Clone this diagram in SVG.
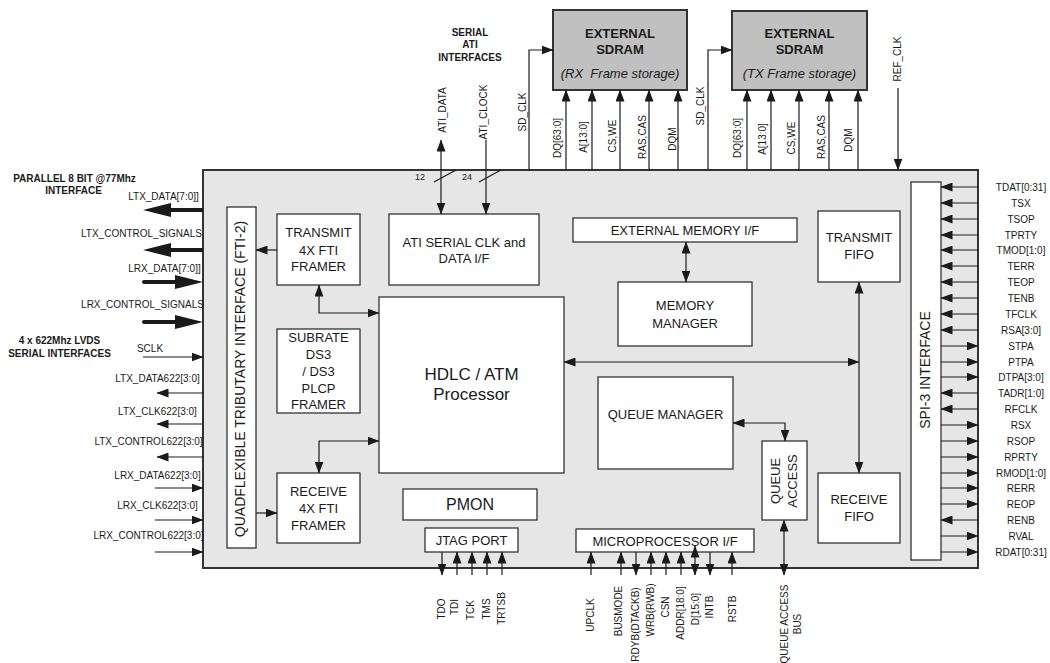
<svg xmlns="http://www.w3.org/2000/svg" width="1050" height="663" viewBox="0 0 1050 663">
<style>
.t{font-family:"Liberation Sans",Arial,sans-serif;fill:#1a1a1a}
.c{text-anchor:middle}
.b{font-weight:bold}
.box{fill:#fff;stroke:#333;stroke-width:1.3}
.sd{fill:#c0c0c0;stroke:#333;stroke-width:2}
.ln{stroke:#1a1a1a;stroke-width:1.2;fill:none}
.th{stroke:#1a1a1a;stroke-width:4;fill:none}
.s10{font-size:10px}
.s13{font-size:13px}
</style>
<defs>
<marker id="ah" viewBox="0 0 12 9" refX="11.5" refY="4.5" markerWidth="12" markerHeight="9" markerUnits="userSpaceOnUse" orient="auto-start-reverse"><path d="M0,0L12,4.5L0,9z" fill="#1a1a1a"/></marker>
</defs>
<rect width="1050" height="663" fill="#fff"/>

<g id="chip"><rect x="203" y="170" width="775" height="398" fill="#e6e6e6" stroke="#333" stroke-width="2"/></g>

<g id="sdram-rx"><rect class="sd" x="553" y="10" width="134" height="80"/>
<text class="t c b s13" x="620" y="38">EXTERNAL</text>
<text class="t c b s13" x="620" y="54">SDRAM</text>
<text class="t c s13" x="620" y="78" font-style="italic" xml:space="preserve">(RX  Frame storage)</text></g>
<g id="sdram-tx"><rect class="sd" x="732" y="11" width="135" height="79"/>
<text class="t c b s13" x="799.5" y="38">EXTERNAL</text>
<text class="t c b s13" x="799.5" y="54">SDRAM</text>
<text class="t c s13" x="799.5" y="78" font-style="italic">(TX Frame storage)</text></g>

<g id="fti"><rect class="box" x="227" y="207" width="29" height="341"/>
<text class="t c" font-size="14" transform="translate(245,379) rotate(-90)">QUADFLEXIBLE TRIBUTARY INTERFACE (FTI-2)</text></g>
<g id="tx-framer"><rect class="box" x="277" y="214" width="83" height="71"/>
<text class="t c s13" x="318.5" y="237">TRANSMIT</text><text class="t c s13" x="318.5" y="255">4X FTI</text><text class="t c s13" x="318.5" y="271">FRAMER</text></g>
<g id="subrate"><rect class="box" x="277" y="329" width="83" height="84"/>
<text class="t c s13" x="318.5" y="342">SUBRATE</text><text class="t c s13" x="318.5" y="359">DS3</text><text class="t c s13" x="318.5" y="376">/ DS3</text><text class="t c s13" x="318.5" y="393">PLCP</text><text class="t c s13" x="318.5" y="409">FRAMER</text></g>
<g id="rx-framer"><rect class="box" x="277" y="473" width="83" height="70"/>
<text class="t c s13" x="318.5" y="496">RECEIVE</text><text class="t c s13" x="318.5" y="513">4X FTI</text><text class="t c s13" x="318.5" y="530">FRAMER</text></g>
<g id="ati"><rect class="box" x="389" y="214" width="150" height="71"/>
<text class="t c s13" x="464" y="247">ATI SERIAL CLK and</text><text class="t c s13" x="464" y="263">DATA I/F</text></g>
<g id="hdlc"><rect class="box" x="379" y="297" width="185" height="176"/>
<text class="t c" font-size="17" x="471.5" y="380">HDLC / ATM</text><text class="t c" font-size="17" x="471.5" y="400">Processor</text></g>
<g id="pmon"><rect class="box" x="403" y="489" width="134" height="31"/>
<text class="t c" font-size="16" x="470" y="510">PMON</text></g>
<g id="jtag"><rect class="box" x="425" y="528" width="93" height="24"/>
<text class="t c s13" x="471.5" y="545">JTAG PORT</text></g>
<g id="ext-mem-if"><rect class="box" x="573" y="218" width="224" height="24"/>
<text class="t c s13" x="685" y="235">EXTERNAL MEMORY I/F</text></g>
<g id="mem-mgr"><rect class="box" x="618" y="282" width="134" height="64"/>
<text class="t c s13" x="685" y="310">MEMORY</text><text class="t c s13" x="685" y="328">MANAGER</text></g>
<g id="tx-fifo"><rect class="box" x="818" y="211" width="82" height="71"/>
<text class="t c s13" x="859" y="242">TRANSMIT</text><text class="t c s13" x="859" y="259">FIFO</text></g>
<g id="queue-mgr"><rect class="box" x="598" y="377" width="135" height="92"/>
<text class="t c s13" x="665.5" y="419">QUEUE MANAGER</text></g>
<g id="queue-access"><rect class="box" x="762" y="441" width="45" height="79"/>
<text class="t c s13" transform="translate(780,481) rotate(-90)">QUEUE</text>
<text class="t c s13" transform="translate(797,481) rotate(-90)">ACCESS</text></g>
<g id="rx-fifo"><rect class="box" x="818" y="473" width="82" height="70"/>
<text class="t c s13" x="859" y="504">RECEIVE</text><text class="t c s13" x="859" y="521">FIFO</text></g>
<g id="micro-if"><rect class="box" x="576" y="529" width="178" height="23"/>
<text class="t c s13" x="665" y="546">MICROPROCESSOR I/F</text></g>
<g id="spi3"><rect class="box" x="911" y="182" width="30" height="378"/>
<text class="t c" font-size="14" transform="translate(930,370) rotate(-90)">SPI-3 INTERFACE</text></g>

<g id="connectors">
<!-- internal -->
<line class="ln" x1="277" y1="250" x2="256" y2="250" marker-end="url(#ah)"/>
<line class="ln" x1="256" y1="513" x2="277" y2="513" marker-end="url(#ah)"/>
<polyline class="ln" points="319,285 319,313 379,313" marker-start="url(#ah)" marker-end="url(#ah)"/>
<polyline class="ln" points="379,441 319,441 319,473" marker-start="url(#ah)" marker-end="url(#ah)"/>
<line class="ln" x1="441" y1="140" x2="441" y2="214" marker-start="url(#ah)" marker-end="url(#ah)"/>
<line class="ln" x1="486" y1="140" x2="486" y2="214" marker-end="url(#ah)"/>
<line class="ln" x1="434" y1="182" x2="456" y2="170"/>
<line class="ln" x1="479" y1="182" x2="501" y2="170"/>
<line class="ln" x1="686" y1="242" x2="686" y2="282" marker-start="url(#ah)" marker-end="url(#ah)"/>
<line class="ln" x1="564" y1="362" x2="859" y2="362" marker-start="url(#ah)" marker-end="url(#ah)"/>
<line class="ln" x1="859" y1="282" x2="859" y2="473" marker-start="url(#ah)" marker-end="url(#ah)"/>
<polyline class="ln" points="733,423 785,423 785,441" marker-start="url(#ah)" marker-end="url(#ah)"/>
<line class="ln" x1="784" y1="520" x2="784" y2="575" marker-start="url(#ah)" marker-end="url(#ah)"/>
<!-- top SDRAM signals -->
<polyline class="ln" points="529,170 529,50 553,50" marker-end="url(#ah)"/>
<line class="ln" x1="566" y1="170" x2="566" y2="90" marker-end="url(#ah)"/>
<line class="ln" x1="592" y1="170" x2="592" y2="90" marker-end="url(#ah)"/>
<line class="ln" x1="620" y1="170" x2="620" y2="90" marker-end="url(#ah)"/>
<line class="ln" x1="649" y1="170" x2="649" y2="90" marker-end="url(#ah)"/>
<line class="ln" x1="678" y1="170" x2="678" y2="90" marker-end="url(#ah)"/>
<polyline class="ln" points="708,170 708,50 732,50" marker-end="url(#ah)"/>
<line class="ln" x1="747" y1="170" x2="747" y2="90" marker-end="url(#ah)"/>
<line class="ln" x1="771" y1="170" x2="771" y2="90" marker-end="url(#ah)"/>
<line class="ln" x1="799" y1="170" x2="799" y2="90" marker-end="url(#ah)"/>
<line class="ln" x1="829" y1="170" x2="829" y2="90" marker-end="url(#ah)"/>
<line class="ln" x1="858" y1="170" x2="858" y2="90" marker-end="url(#ah)"/>
<line class="ln" x1="898" y1="88" x2="898" y2="170" marker-end="url(#ah)"/>
<!-- left thick -->
<line class="th" x1="203" y1="210" x2="168" y2="210"/><polygon points="143,210 171,203 171,217" fill="#1a1a1a"/>
<line class="th" x1="203" y1="250" x2="168" y2="250"/><polygon points="143,250 171,243 171,257" fill="#1a1a1a"/>
<line class="th" x1="144" y1="282" x2="178" y2="282" stroke-linecap="round"/><polygon points="203,282 175,275 175,289" fill="#1a1a1a"/>
<line class="th" x1="144" y1="322" x2="178" y2="322" stroke-linecap="round"/><polygon points="203,322 175,315 175,329" fill="#1a1a1a"/>
<!-- left thin -->
<line class="ln" x1="143" y1="357" x2="203" y2="357" marker-end="url(#ah)"/>
<line class="ln" x1="203" y1="393" x2="157" y2="393" marker-end="url(#ah)"/>
<line class="ln" x1="203" y1="424" x2="157" y2="424" marker-end="url(#ah)"/>
<line class="ln" x1="203" y1="457" x2="157" y2="457" marker-end="url(#ah)"/>
<line class="ln" x1="155" y1="488" x2="203" y2="488" marker-end="url(#ah)"/>
<line class="ln" x1="155" y1="520" x2="203" y2="520" marker-end="url(#ah)"/>
<line class="ln" x1="155" y1="552" x2="203" y2="552" marker-end="url(#ah)"/>
<!-- right SPI-3 -->
<line class="ln" x1="978" y1="187" x2="941" y2="187" marker-end="url(#ah)"/>
<line class="ln" x1="978" y1="203" x2="941" y2="203" marker-end="url(#ah)"/>
<line class="ln" x1="978" y1="219" x2="941" y2="219" marker-end="url(#ah)"/>
<line class="ln" x1="978" y1="235" x2="941" y2="235" marker-end="url(#ah)"/>
<line class="ln" x1="978" y1="250" x2="941" y2="250" marker-end="url(#ah)"/>
<line class="ln" x1="978" y1="266" x2="941" y2="266" marker-end="url(#ah)"/>
<line class="ln" x1="978" y1="282" x2="941" y2="282" marker-end="url(#ah)"/>
<line class="ln" x1="978" y1="298" x2="941" y2="298" marker-end="url(#ah)"/>
<line class="ln" x1="978" y1="314" x2="941" y2="314" marker-end="url(#ah)"/>
<line class="ln" x1="978" y1="330" x2="941" y2="330" marker-end="url(#ah)"/>
<line class="ln" x1="941" y1="346" x2="978" y2="346" marker-end="url(#ah)"/>
<line class="ln" x1="941" y1="362" x2="978" y2="362" marker-end="url(#ah)"/>
<line class="ln" x1="941" y1="377" x2="978" y2="377" marker-end="url(#ah)"/>
<line class="ln" x1="978" y1="393" x2="941" y2="393" marker-end="url(#ah)"/>
<line class="ln" x1="978" y1="409" x2="941" y2="409" marker-end="url(#ah)"/>
<line class="ln" x1="941" y1="425" x2="978" y2="425" marker-end="url(#ah)"/>
<line class="ln" x1="941" y1="441" x2="978" y2="441" marker-end="url(#ah)"/>
<line class="ln" x1="941" y1="457" x2="978" y2="457" marker-end="url(#ah)"/>
<line class="ln" x1="941" y1="473" x2="978" y2="473" marker-end="url(#ah)"/>
<line class="ln" x1="941" y1="488" x2="978" y2="488" marker-end="url(#ah)"/>
<line class="ln" x1="941" y1="504" x2="978" y2="504" marker-end="url(#ah)"/>
<line class="ln" x1="978" y1="520" x2="941" y2="520" marker-end="url(#ah)"/>
<line class="ln" x1="941" y1="536" x2="978" y2="536" marker-end="url(#ah)"/>
<line class="ln" x1="941" y1="552" x2="978" y2="552" marker-end="url(#ah)"/>
<!-- bottom JTAG -->
<line class="ln" x1="442" y1="552" x2="442" y2="575" marker-end="url(#ah)"/>
<line class="ln" x1="457" y1="575" x2="457" y2="552" marker-end="url(#ah)"/>
<line class="ln" x1="472" y1="575" x2="472" y2="552" marker-end="url(#ah)"/>
<line class="ln" x1="487" y1="575" x2="487" y2="552" marker-end="url(#ah)"/>
<line class="ln" x1="502" y1="575" x2="502" y2="552" marker-end="url(#ah)"/>
<!-- bottom micro -->
<line class="ln" x1="591" y1="575" x2="591" y2="552" marker-end="url(#ah)"/>
<line class="ln" x1="621" y1="575" x2="621" y2="552" marker-end="url(#ah)"/>
<line class="ln" x1="636" y1="552" x2="636" y2="575" marker-end="url(#ah)"/>
<line class="ln" x1="651" y1="575" x2="651" y2="552" marker-end="url(#ah)"/>
<line class="ln" x1="666" y1="575" x2="666" y2="552" marker-end="url(#ah)"/>
<line class="ln" x1="681" y1="575" x2="681" y2="552" marker-end="url(#ah)"/>
<line class="ln" x1="695" y1="546" x2="695" y2="575" marker-start="url(#ah)" marker-end="url(#ah)"/>
<line class="ln" x1="710" y1="552" x2="710" y2="575" marker-end="url(#ah)"/>
<line class="ln" x1="732" y1="575" x2="732" y2="552" marker-end="url(#ah)"/>
</g>

<g id="labels">
<text class="t c b s10" x="470" y="36">SERIAL</text>
<text class="t c b s10" x="470" y="48">ATI</text>
<text class="t c b s10" x="470" y="61">INTERFACES</text>
<text class="t c" font-size="9" x="420" y="180">12</text>
<text class="t c" font-size="9" x="467" y="180">24</text>
<text class="t c s10" transform="translate(445.6,110) rotate(-90)">ATI_DATA</text>
<text class="t c s10" transform="translate(486.6,112) rotate(-90)">ATI_CLOCK</text>
<text class="t c s10" transform="translate(525.6,112) rotate(-90)">SD_CLK</text>
<text class="t c s10" transform="translate(560.6,138) rotate(-90)">DQ[63:0]</text>
<text class="t c s10" transform="translate(586.6,137) rotate(-90)">A[13:0]</text>
<text class="t c s10" transform="translate(615.6,136) rotate(-90)">CS,WE</text>
<text class="t c s10" transform="translate(645.6,137) rotate(-90)">RAS,CAS</text>
<text class="t c s10" transform="translate(675.6,139) rotate(-90)">DQM</text>
<text class="t c s10" transform="translate(703.6,106) rotate(-90)">SD_CLK</text>
<text class="t c s10" transform="translate(740.6,138) rotate(-90)">DQ[63:0]</text>
<text class="t c s10" transform="translate(765.6,139) rotate(-90)">A[13:0]</text>
<text class="t c s10" transform="translate(794.6,138) rotate(-90)">CS,WE</text>
<text class="t c s10" transform="translate(824.6,137) rotate(-90)">RAS,CAS</text>
<text class="t c s10" transform="translate(851.6,140) rotate(-90)">DQM</text>
<text class="t c s10" transform="translate(900.6,59) rotate(-90)">REF_CLK</text>

<text class="t c b s10" x="74.5" y="182">PARALLEL 8 BIT @77Mhz</text>
<text class="t c b s10" x="73.5" y="194">INTERFACE</text>
<text class="t c b s10" x="59.5" y="344">4 x 622Mhz LVDS</text>
<text class="t c b s10" x="59.5" y="357">SERIAL INTERFACES</text>
<text class="t c s10" x="163.5" y="200">LTX_DATA[7:0]]</text>
<text class="t c s10" x="141.5" y="237">LTX_CONTROL_SIGNALS</text>
<text class="t c s10" x="164.5" y="272">LRX_DATA[7:0]]</text>
<text class="t c s10" x="142.5" y="308">LRX_CONTROL_SIGNALS</text>
<text class="t c s10" x="150" y="352">SCLK</text>
<text class="t c s10" x="157.5" y="382">LTX_DATA622[3:0]</text>
<text class="t c s10" x="157.5" y="415">LTX_CLK622[3:0]</text>
<text class="t c s10" x="148.5" y="445">LTX_CONTROL622[3:0]</text>
<text class="t c s10" x="157.5" y="479">LRX_DATA622[3:0]</text>
<text class="t c s10" x="157.5" y="509">LRX_CLK622[3:0]</text>
<text class="t c s10" x="148.5" y="539">LRX_CONTROL622[3:0]</text>

<text class="t c s10" x="1021" y="191">TDAT[0:31]</text>
<text class="t c s10" x="1021" y="207">TSX</text>
<text class="t c s10" x="1021" y="223">TSOP</text>
<text class="t c s10" x="1021" y="239">TPRTY</text>
<text class="t c s10" x="1021" y="254">TMOD[1:0]</text>
<text class="t c s10" x="1021" y="270">TERR</text>
<text class="t c s10" x="1021" y="286">TEOP</text>
<text class="t c s10" x="1021" y="302">TENB</text>
<text class="t c s10" x="1021" y="318">TFCLK</text>
<text class="t c s10" x="1021" y="334">RSA[3:0]</text>
<text class="t c s10" x="1021" y="350">STPA</text>
<text class="t c s10" x="1021" y="366">PTPA</text>
<text class="t c s10" x="1021" y="381">DTPA[3:0]</text>
<text class="t c s10" x="1021" y="397">TADR[1:0]</text>
<text class="t c s10" x="1021" y="413">RFCLK</text>
<text class="t c s10" x="1021" y="429">RSX</text>
<text class="t c s10" x="1021" y="445">RSOP</text>
<text class="t c s10" x="1021" y="461">RPRTY</text>
<text class="t c s10" x="1021" y="477">RMOD[1:0]</text>
<text class="t c s10" x="1021" y="492">RERR</text>
<text class="t c s10" x="1021" y="508">REOP</text>
<text class="t c s10" x="1021" y="524">RENB</text>
<text class="t c s10" x="1021" y="540">RVAL</text>
<text class="t c s10" x="1021" y="556">RDAT[0:31]</text>

<text class="t c s10" transform="translate(444.6,609) rotate(-90)">TDO</text>
<text class="t c s10" transform="translate(458.1,607) rotate(-90)">TDI</text>
<text class="t c s10" transform="translate(473.6,610) rotate(-90)">TCK</text>
<text class="t c s10" transform="translate(489.6,609) rotate(-90)">TMS</text>
<text class="t c s10" transform="translate(504.6,608.5) rotate(-90)">TRTSB</text>
<text class="t c s10" transform="translate(593.6,615) rotate(-90)">UPCLK</text>
<text class="t c s10" transform="translate(621.6,611) rotate(-90)">BUSMODE</text>
<text class="t c s10" transform="translate(638.6,624.5) rotate(-90)">RDYB(DTACKB)</text>
<text class="t c s10" transform="translate(653.6,610) rotate(-90)">WRB(RWB)</text>
<text class="t c s10" transform="translate(668.6,607) rotate(-90)">CSN</text>
<text class="t c s10" transform="translate(683.6,613) rotate(-90)">ADDR[18:0]</text>
<text class="t c s10" transform="translate(698.6,609) rotate(-90)">D[15:0]</text>
<text class="t c s10" transform="translate(712.6,607) rotate(-90)">INTB</text>
<text class="t c s10" transform="translate(735.6,609) rotate(-90)">RSTB</text>
<text class="t c s10" transform="translate(787.6,624) rotate(-90)">QUEUE ACCESS</text>
<text class="t c s10" transform="translate(800.6,624) rotate(-90)">BUS</text>
</g>
</svg>
